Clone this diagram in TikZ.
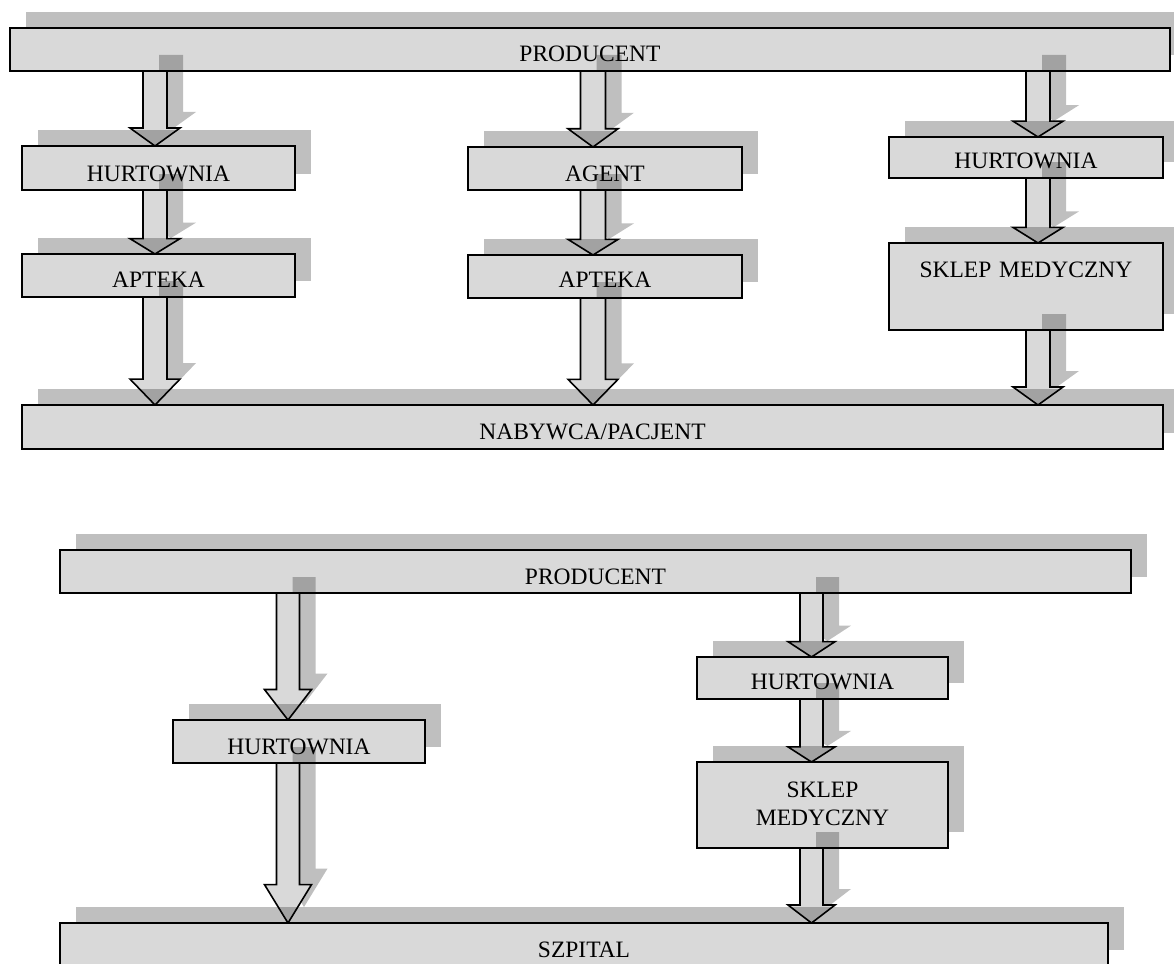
\documentclass[tikz,border=0pt]{standalone}
\usepackage{fontspec}
\setmainfont{Liberation Serif}
\usetikzlibrary{calc}
\pgfdeclarelayer{a1}
\pgfdeclarelayer{b1}
\pgfdeclarelayer{a2}
\pgfdeclarelayer{b2}
\pgfdeclarelayer{a3}
\pgfdeclarelayer{b3}
\pgfsetlayers{main,a1,b1,a2,b2,a3,b3}
\definecolor{boxgray}{HTML}{D9D9D9}
\tikzset{
  dropshade/.style={preaction={fill=black, fill opacity=0.25, draw=none,
      transform canvas={shift={(16pt,16pt)}}}},
  flowbox/.style={draw=black, line width=1.7pt, fill=boxgray, dropshade,
      inner sep=0pt, outer sep=0pt, anchor=north west, align=center,
      font=\fontsize{23.5}{28}\selectfont},
  blockarrow/.style={draw=black, line width=1.6pt, fill=boxgray,
      line join=miter, dropshade},
}
% #1 from node, #2 to node, #3 x centre, #4 shaft half width, #5 head half width
\newcommand\flowarrow[5]{%
  \draw[blockarrow] let \p1=(#1.south), \p2=(#2.north), \n1={0.24*(\y1-\y2)} in
    ({(#3-#4)*1pt},\y1) -- ({(#3+#4)*1pt},\y1)
    -- ({(#3+#4)*1pt},{\y2+\n1*1pt}) -- ({(#3+#5)*1pt},{\y2+\n1*1pt})
    -- ({#3*1pt},\y2)
    -- ({(#3-#5)*1pt},{\y2+\n1*1pt}) -- ({(#3-#4)*1pt},{\y2+\n1*1pt}) -- cycle;}
\begin{document}
\begin{tikzpicture}[x=1pt,y=-1pt]
\useasboundingbox (0,0) rectangle (1174,963);
% ---------- top diagram ----------
\node[flowbox, text width=1160pt, text height=34pt, text depth=9pt] (prodA) at (10,28) {PRODUCENT};
\begin{pgfonlayer}{b1}
\node[flowbox, text width=273pt, text height=35pt, text depth=9pt] (hurtA) at (22,146) {HURTOWNIA};
\node[flowbox, text width=274pt, text height=34pt, text depth=9pt] (agent) at (468,147) {AGENT};
\node[flowbox, text width=274pt, text height=31pt, text depth=10pt] (hurtB) at (889,137) {HURTOWNIA};
\end{pgfonlayer}
\begin{pgfonlayer}{b2}
\node[flowbox, text width=273pt, text height=33pt, text depth=10pt] (aptA) at (22,254) {APTEKA};
\node[flowbox, text width=274pt, text height=32pt, text depth=11pt] (aptB) at (468,255) {APTEKA};
\node[flowbox, text width=274pt, text height=34pt, text depth=53pt] (sklepA) at (889,243) {SKLEP MEDYCZNY};
\end{pgfonlayer}
\begin{pgfonlayer}{b3}
\node[flowbox, text width=1141pt, text height=34pt, text depth=10pt] (nabywca) at (22,405) {NABYWCA/PACJENT};
\end{pgfonlayer}
% ---------- bottom diagram ----------
\node[flowbox, text width=1071pt, text height=34pt, text depth=9pt] (prodB) at (60,550) {PRODUCENT};
\begin{pgfonlayer}{b1}
\node[flowbox, text width=252pt, text height=34pt, text depth=9pt] (hurtC) at (173,720) {HURTOWNIA};
\node[flowbox, text width=251pt, text height=32pt, text depth=10pt] (hurtD) at (697,657) {HURTOWNIA};
\end{pgfonlayer}
\begin{pgfonlayer}{b2}
\node[flowbox, text width=251pt, text height=35pt, text depth=51pt] (sklepB) at (697,762) {SKLEP\\MEDYCZNY};
\end{pgfonlayer}
\begin{pgfonlayer}{b3}
\node[flowbox, text width=1048pt, text height=34pt, text depth=9pt] (szpital) at (60,923) {SZPITAL};
\end{pgfonlayer}
% ---------- arrows ----------
\begin{pgfonlayer}{a1}
\flowarrow{prodA}{hurtA}{155}{12}{25}
\flowarrow{prodA}{agent}{593}{12.5}{25}
\flowarrow{prodA}{hurtB}{1038}{12}{25}
\flowarrow{prodB}{hurtC}{288}{11.5}{23.5}
\flowarrow{prodB}{hurtD}{811.5}{11.5}{23.5}
\end{pgfonlayer}
\begin{pgfonlayer}{a2}
\flowarrow{hurtA}{aptA}{155}{12}{25}
\flowarrow{agent}{aptB}{593}{12.5}{25}
\flowarrow{hurtB}{sklepA}{1038}{12}{25}
\flowarrow{hurtD}{sklepB}{811.5}{11.5}{23.5}
\end{pgfonlayer}
\begin{pgfonlayer}{a3}
\flowarrow{aptA}{nabywca}{155}{12}{25}
\flowarrow{aptB}{nabywca}{593}{12.5}{25}
\flowarrow{sklepA}{nabywca}{1038}{12}{25}
\flowarrow{hurtC}{szpital}{288}{11.5}{23.5}
\flowarrow{sklepB}{szpital}{811.5}{11.5}{23.5}
\end{pgfonlayer}
\end{tikzpicture}
\end{document}
